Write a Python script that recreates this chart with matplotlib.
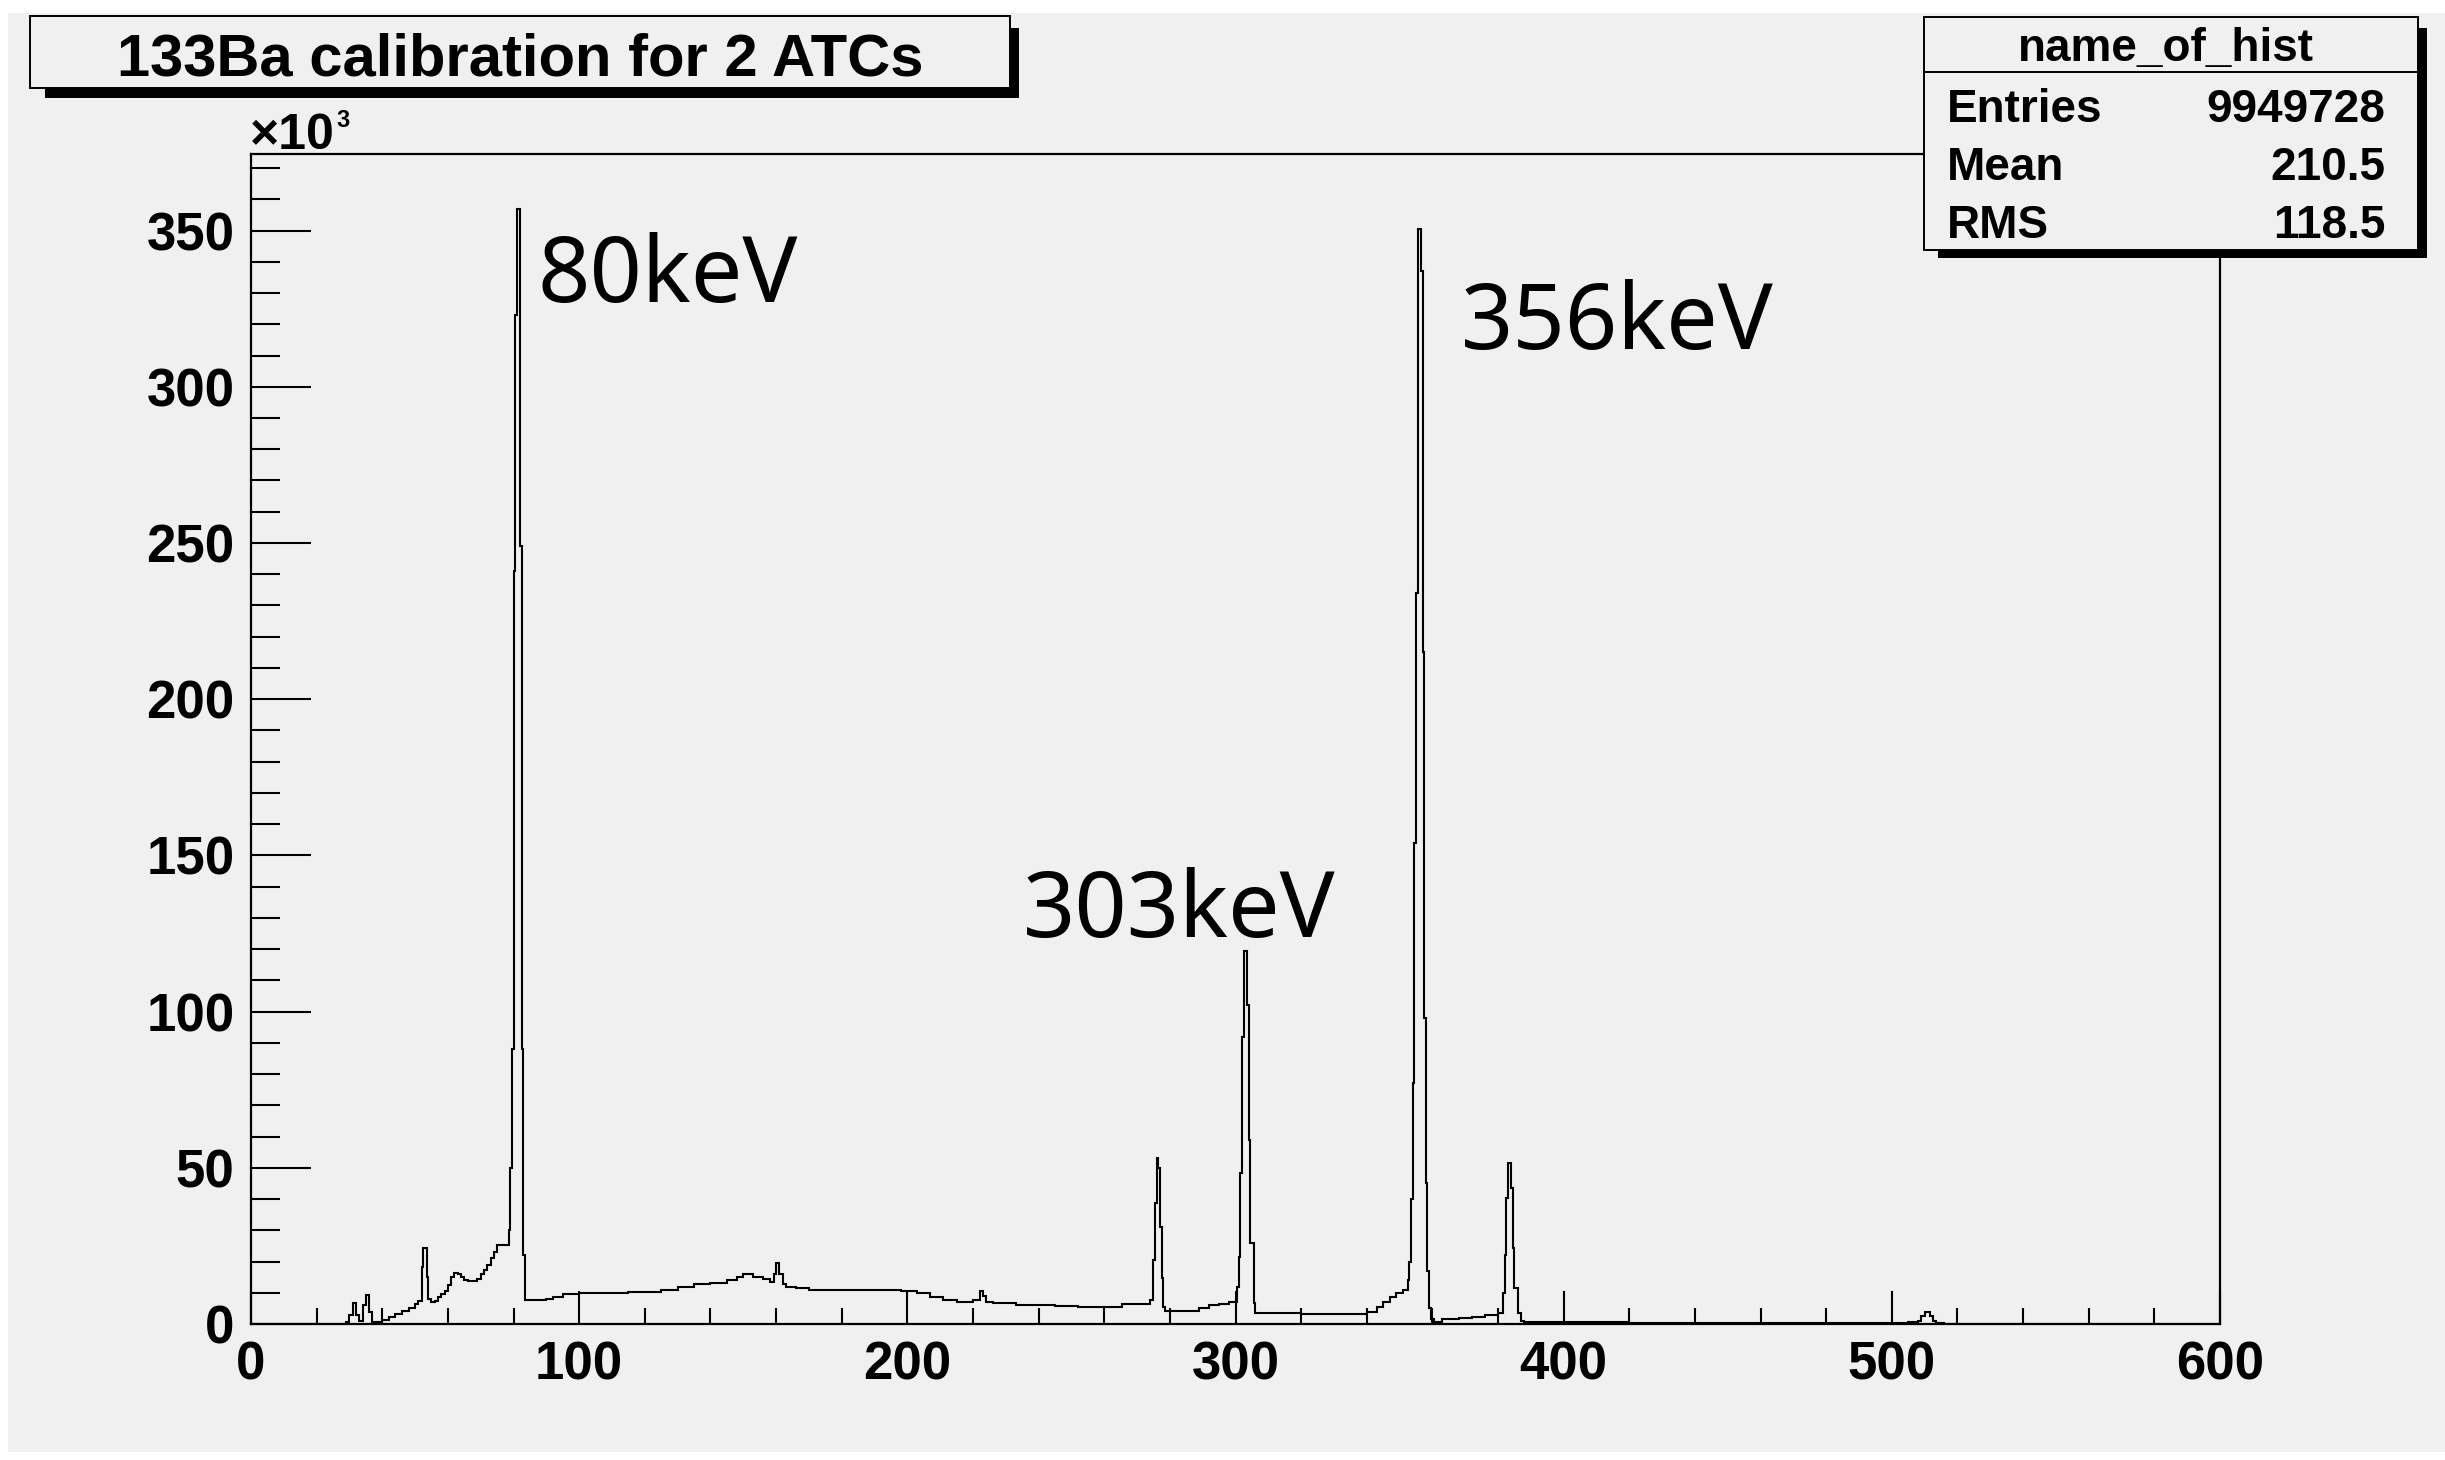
import matplotlib
matplotlib.use("Agg")
import matplotlib.pyplot as plt
from matplotlib.patches import Rectangle
from matplotlib.lines import Line2D
from matplotlib.ticker import MultipleLocator

# ---------------- data ----------------
# lower bin edges in keV and counts in units of 10^3 (last edge = 600 keV)
bin_lo_keV = [
    0, 29, 30, 31, 32, 33, 34, 35, 36, 37, 40, 42, 44, 46, 48, 50, 51, 52, 52.5, 53.5,
    54, 55, 56, 57, 58, 59, 60, 61, 62, 63, 64, 65, 66, 67, 68, 69, 70, 71, 72, 73,
    74, 75, 78.5, 79, 79.5, 80, 80.5, 81, 82, 82.5, 83, 83.5, 90, 92, 95, 100, 115, 125, 130, 135,
    140, 145, 148, 150, 153, 156, 158, 159.5, 160, 161, 162, 163, 166, 170, 190, 198, 203, 207, 211, 215,
    220, 222, 223, 224, 226, 233, 245, 252, 264, 265.5, 274, 275, 275.5, 276, 276.5, 277, 277.5, 278, 278.5, 289,
    292, 295, 298, 300.5, 301, 301.5, 302, 302.5, 303.5, 304, 304.5, 305.5, 306, 320, 340, 343, 345, 347, 349, 351,
    352.5, 353, 353.5, 354, 354.5, 355, 355.5, 356.5, 357, 357.5, 358, 358.5, 359, 359.5, 360.5, 363, 368, 372, 376, 380,
    381.5, 382, 382.5, 383, 384, 384.5, 385, 386, 387, 388, 400, 420, 450, 470, 505, 508, 509, 510, 511.5, 512.5,
    513.5, 516, 525,
]
counts_k = [
    0, 0.5, 3, 6.6, 3, 1, 6, 9.3, 4, 0.5, 1.2, 2.3, 3.2, 4.2, 5.2, 6.3, 7.5, 18.4, 24.2, 15,
    8, 7.2, 7.5, 8.5, 9.5, 10.5, 12.5, 15, 16.3, 16, 15, 14.2, 13.8, 13.7, 13.8, 14.5, 16, 17.3, 19, 21,
    23, 25.3, 30, 50, 88, 241, 323, 357, 249, 88, 22, 7.6, 8, 8.8, 9.5, 9.9, 10.3, 11, 11.8, 12.8,
    13.1, 14, 15, 16, 15.2, 14.5, 13.6, 16, 19.5, 16, 12.8, 12, 11.5, 11, 10.8, 10.5, 10, 8.8, 7.8, 7.2,
    7.6, 10.6, 9, 7.2, 6.6, 6.2, 5.8, 5.3, 5.6, 6.4, 7.7, 20.5, 38.6, 53, 50, 31, 14.7, 5.5, 4.3, 5.0,
    6.0, 6.5, 7.2, 12, 21.5, 48.2, 92, 119.5, 102, 58.9, 25.8, 6.6, 3.4, 3.2, 4.0, 5.5, 7.2, 8.5, 9.8, 11,
    14, 20, 40, 77, 154, 234, 350.5, 337, 215, 98, 45, 17, 5, 1.5, 0.5, 1.5, 2.0, 2.4, 2.8, 3.4,
    9.8, 22, 40.2, 51.4, 43.4, 24.2, 11.4, 3.4, 1.0, 0.8, 0.7, 0.45, 0.35, 0.25, 0.5, 1.0, 2.5, 3.9, 2.5, 1.0,
    0.4, 0.15, 0,
]
x_range_keV = [0, 600]
y_max_k = 374.5

title_text = "133Ba calibration for 2 ATCs"
stats_title = "name_of_hist"
stats_labels = ["Entries", "Mean", "RMS"]
stats_values = ["9949728", "210.5", "118.5"]
peak_labels = ["80keV", "303keV", "356keV"]

# ---------------- layout helpers ----------------
W, H = 2445, 1460
def fx(px):
    return px / W
def fy(py):
    return 1 - py / H

GREY = "#f0f0f0"
plt.rcParams["font.family"] = ["Liberation Sans", "DejaVu Sans"]
plt.rcParams["font.weight"] = "bold"

fig = plt.figure(figsize=(W / 100, H / 100), dpi=100)
fig.patch.set_facecolor("white")
# canvas
fig.patches.append(Rectangle((fx(8), fy(1452)), fx(W) - fx(8), fy(13) - fy(1452),
                             transform=fig.transFigure, facecolor=GREY, edgecolor="none", zorder=-10))

ax = fig.add_axes([fx(251), fy(1324), fx(2220) - fx(251), fy(154) - fy(1324)])
ax.set_zorder(1)
ax.set_facecolor(GREY)

edges = bin_lo_keV + [x_range_keV[1]]
ax.stairs(counts_k, edges, color="black", linewidth=1.5, baseline=None)

ax.set_xlim(*x_range_keV)
ax.set_ylim(0, y_max_k)

for s in ax.spines.values():
    s.set_linewidth(1.6)
    s.set_color("black")

ax.xaxis.set_major_locator(MultipleLocator(100))
ax.xaxis.set_minor_locator(MultipleLocator(20))
ax.yaxis.set_major_locator(MultipleLocator(50))
ax.yaxis.set_minor_locator(MultipleLocator(10))
ax.tick_params(axis="both", which="both", direction="in", width=1.5, labelsize=38, pad=12)
ax.tick_params(axis="y", which="major", length=43)
ax.tick_params(axis="y", which="minor", length=21)
ax.tick_params(axis="x", which="major", length=24)
ax.tick_params(axis="x", which="minor", length=11.5)
ax.tick_params(top=False, right=False)
for lab in ax.get_xticklabels() + ax.get_yticklabels():
    lab.set_fontweight("bold")

# x10^3 exponent label
fig.text(fx(250), fy(149), "\u00d710", fontsize=36, fontweight="bold", ha="left", va="baseline", zorder=8)
fig.text(fx(336), fy(127), "3", fontsize=17, fontweight="bold", ha="left", va="baseline", zorder=8)

# title box with shadow
fig.patches.append(Rectangle((fx(45), fy(98)), fx(1019) - fx(45), fy(28) - fy(98),
                             transform=fig.transFigure, facecolor="black", edgecolor="none", zorder=5))
fig.patches.append(Rectangle((fx(29.5), fy(88)), fx(1010) - fx(29.5), fy(16) - fy(88),
                             transform=fig.transFigure, facecolor=GREY, edgecolor="black",
                             linewidth=1.4, zorder=6))
fig.text(fx(520), fy(75), title_text, fontsize=43, fontweight="bold", ha="center", va="baseline", zorder=7)

# stats box with shadow
sx0, sx1, sy0, sy1 = 1923.6, 2418, 16.7, 250
fig.patches.append(Rectangle((fx(sx0 + 14), fy(sy1 + 8)), fx(sx1 + 8.6) - fx(sx0 + 14), fy(sy0 + 11) - fy(sy1 + 8),
                             transform=fig.transFigure, facecolor="black", edgecolor="none", zorder=5))
fig.patches.append(Rectangle((fx(sx0), fy(sy1)), fx(sx1) - fx(sx0), fy(sy0) - fy(sy1),
                             transform=fig.transFigure, facecolor=GREY, edgecolor="black",
                             linewidth=1.4, zorder=6))
fig.lines.append(Line2D([fx(sx0), fx(sx1)], [fy(71.7), fy(71.7)], transform=fig.transFigure,
                        color="black", linewidth=1.4, zorder=7))
fig.text(fx((sx0 + sx1) / 2 - 5), fy(61), stats_title, fontsize=33, fontweight="bold",
         ha="center", va="baseline", zorder=8)
row_baselines = [121.7, 180, 238]
for lab, val, yb in zip(stats_labels, stats_values, row_baselines):
    fig.text(fx(1947), fy(yb), lab, fontsize=33, fontweight="bold", ha="left", va="baseline", zorder=8)
    fig.text(fx(2385), fy(yb), val, fontsize=33, fontweight="bold", ha="right", va="baseline", zorder=8)

# peak annotations
ann_pos = [(538, 302), (1023, 937), (1461, 349)]
for txt, (px, py) in zip(peak_labels, ann_pos):
    fig.text(fx(px), fy(py), txt, fontsize=66, fontweight="normal", family=["Noto Sans", "DejaVu Sans"],
             ha="left", va="baseline", zorder=9)

fig.savefig("out.png", dpi=100, facecolor=fig.get_facecolor())
